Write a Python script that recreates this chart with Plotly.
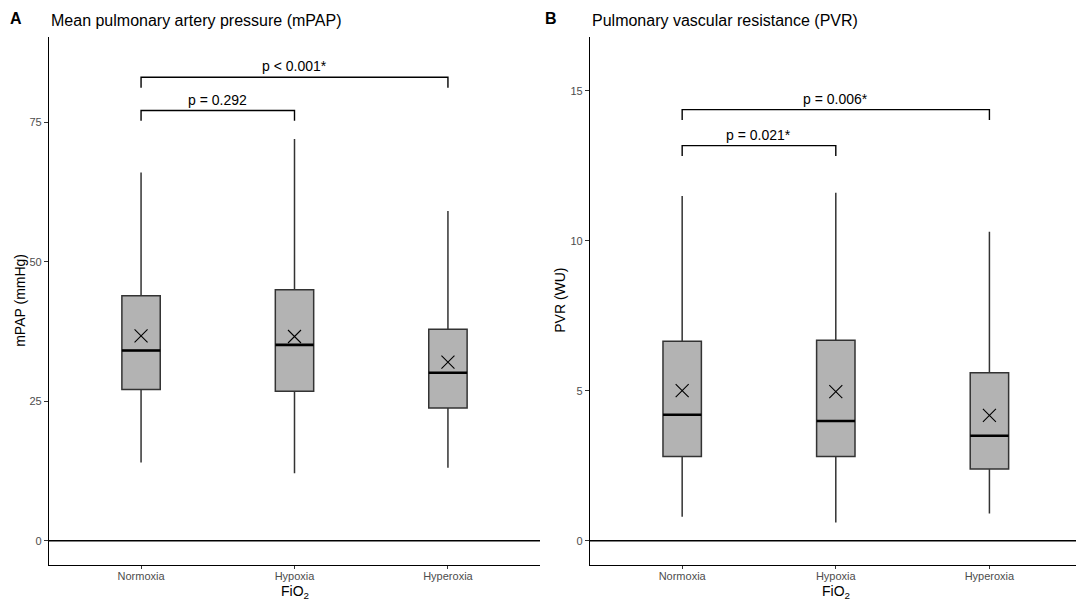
import plotly.graph_objects as go

# groups on the x axis
categories = ["Normoxia", "Hypoxia", "Hyperoxia"]
positions = [1, 2, 3]

# mPAP (mmHg) box summaries
mpap_lower = [14.0, 12.1, 13.1]
mpap_q1 = [27.1, 26.8, 23.8]
mpap_median = [34.1, 35.1, 30.1]
mpap_q3 = [43.9, 45.0, 37.9]
mpap_upper = [66.0, 72.0, 59.1]
mpap_mean = [36.7, 36.6, 32.0]

# PVR (WU) box summaries
pvr_lower = [0.80, 0.61, 0.91]
pvr_q1 = [2.81, 2.81, 2.39]
pvr_median = [4.20, 3.99, 3.50]
pvr_q3 = [6.65, 6.68, 5.60]
pvr_upper = [11.49, 11.60, 10.30]
pvr_mean = [5.00, 4.97, 4.18]

# significance brackets (group pairs, bar height, label)
bracket_pairs = [(1, 2), (1, 3)]
mpap_bracket_y = [77.1, 83.05]
mpap_bracket_tip = 1.85
mpap_labels = ["p = 0.292", "p &lt; 0.001*"]
pvr_bracket_y = [13.17, 14.37]
pvr_bracket_tip = 0.35
pvr_labels = ["p = 0.021*", "p = 0.006*"]

FONT = "Liberation Sans, Arial, sans-serif"
BOX_W = 0.25

# the page body has an 8px margin, so lay out in window pixels minus that
OFF = 8
W, H = 1084 - OFF, 604 - OFF


def px(x):
    return (x - OFF) / W


def py(y):
    return 1 - (y - OFF) / H


fig = go.Figure()


def add_panel(xa, ya, lower, q1, med, q3, upper, mean, br_y, tip, labels):
    fig.add_trace(go.Box(
        x=positions, q1=q1, median=med, q3=q3,
        lowerfence=lower, upperfence=upper,
        width=BOX_W, boxpoints=False,
        fillcolor="#b3b3b3", line=dict(color="#333333", width=1.5),
        whiskerwidth=0, showlegend=False, hoverinfo="skip",
        xaxis=xa, yaxis=ya))
    # thick median bars
    mx, my = [], []
    for p, m in zip(positions, med):
        mx += [p - BOX_W / 2, p + BOX_W / 2, None]
        my += [m, m, None]
    fig.add_trace(go.Scatter(x=mx, y=my, mode="lines",
                             line=dict(color="black", width=2.6),
                             showlegend=False, xaxis=xa, yaxis=ya))
    # mean markers
    fig.add_trace(go.Scatter(x=positions, y=mean, mode="markers",
                             marker=dict(symbol="x-thin", size=13,
                                         line=dict(color="black", width=1.1)),
                             showlegend=False, xaxis=xa, yaxis=ya))
    # brackets
    bx, by = [], []
    for (a, b), h in zip(bracket_pairs, br_y):
        bx += [a, a, b, b, None]
        by += [h - tip, h, h, h - tip, None]
    fig.add_trace(go.Scatter(x=bx, y=by, mode="lines",
                             line=dict(color="black", width=1.4),
                             showlegend=False, xaxis=xa, yaxis=ya))
    for (a, b), h, lab in zip(bracket_pairs, br_y, labels):
        fig.add_annotation(x=(a + b) / 2, y=h, xref=xa, yref=ya, text=lab,
                           showarrow=False, yanchor="bottom", yshift=1,
                           font=dict(family=FONT, size=14, color="black"))
    # zero reference line
    fig.add_shape(type="line", xref=xa + " domain", yref=ya,
                  x0=0, x1=1, y0=0, y1=0,
                  line=dict(color="black", width=1.5))


add_panel("x", "y", mpap_lower, mpap_q1, mpap_median, mpap_q3, mpap_upper,
          mpap_mean, mpap_bracket_y, mpap_bracket_tip, mpap_labels)
add_panel("x2", "y2", pvr_lower, pvr_q1, pvr_median, pvr_q3, pvr_upper,
          pvr_mean, pvr_bracket_y, pvr_bracket_tip, pvr_labels)

xaxis_style = dict(range=[0.4, 3.6], tickvals=positions, ticktext=categories,
                   showline=True, linecolor="black", linewidth=1.3,
                   ticks="outside", ticklen=3, tickcolor="#333333",
                   ticklabelstandoff=-2,
                   showgrid=False, zeroline=False,
                   tickfont=dict(family=FONT, size=11, color="#4d4d4d"))
yaxis_style = dict(showline=True, linecolor="black", linewidth=1.3,
                   ticks="outside", ticklen=4, tickcolor="#333333",
                   showgrid=False, zeroline=False,
                   tickfont=dict(family=FONT, size=11, color="#4d4d4d"))

ydom = [py(565), py(36.7)]
fig.update_layout(
    width=W, height=H,
    margin=dict(l=0, r=0, t=0, b=0),
    plot_bgcolor="white", paper_bgcolor="white",
    xaxis=dict(xaxis_style, domain=[px(49), px(540)], anchor="y"),
    yaxis=dict(yaxis_style, domain=ydom, range=[-4.35, 90.33],
               tickvals=[0, 25, 50, 75], anchor="x"),
    xaxis2=dict(xaxis_style, domain=[px(590), px(1081.6)], anchor="y2"),
    yaxis2=dict(yaxis_style, domain=ydom, range=[-0.81, 16.80],
                tickvals=[0, 5, 10, 15], anchor="x2"),
)

# panel letters sit against the top edge
for x, t in [(OFF, "<b>A</b>"), (543, "<b>B</b>")]:
    fig.add_annotation(x=px(x), y=1, xref="paper", yref="paper", text=t,
                       showarrow=False, xanchor="left", yanchor="top",
                       font=dict(family=FONT, size=16, color="black"))

# titles and x axis titles
texts = [
    (49, 20.7, "Mean pulmonary artery pressure (mPAP)", 16, "left"),
    (590, 20.7, "Pulmonary vascular resistance (PVR)", 16, "left"),
    (295, 592, "FiO<sub>2</sub>", 14, "center"),
    (836, 592, "FiO<sub>2</sub>", 14, "center"),
]
for x, y, t, s, anchor in texts:
    fig.add_annotation(x=px(x), y=py(y), xref="paper", yref="paper", text=t,
                       showarrow=False, xanchor=anchor, yanchor="middle",
                       font=dict(family=FONT, size=s, color="black"))

for x, t in [(20, "mPAP (mmHg)"), (560, "PVR (WU)")]:
    fig.add_annotation(x=px(x), y=py(300.8), xref="paper", yref="paper",
                       text=t, textangle=-90, showarrow=False,
                       xanchor="center", yanchor="middle",
                       font=dict(family=FONT, size=14, color="black"))

fig.write_html("out.html")
